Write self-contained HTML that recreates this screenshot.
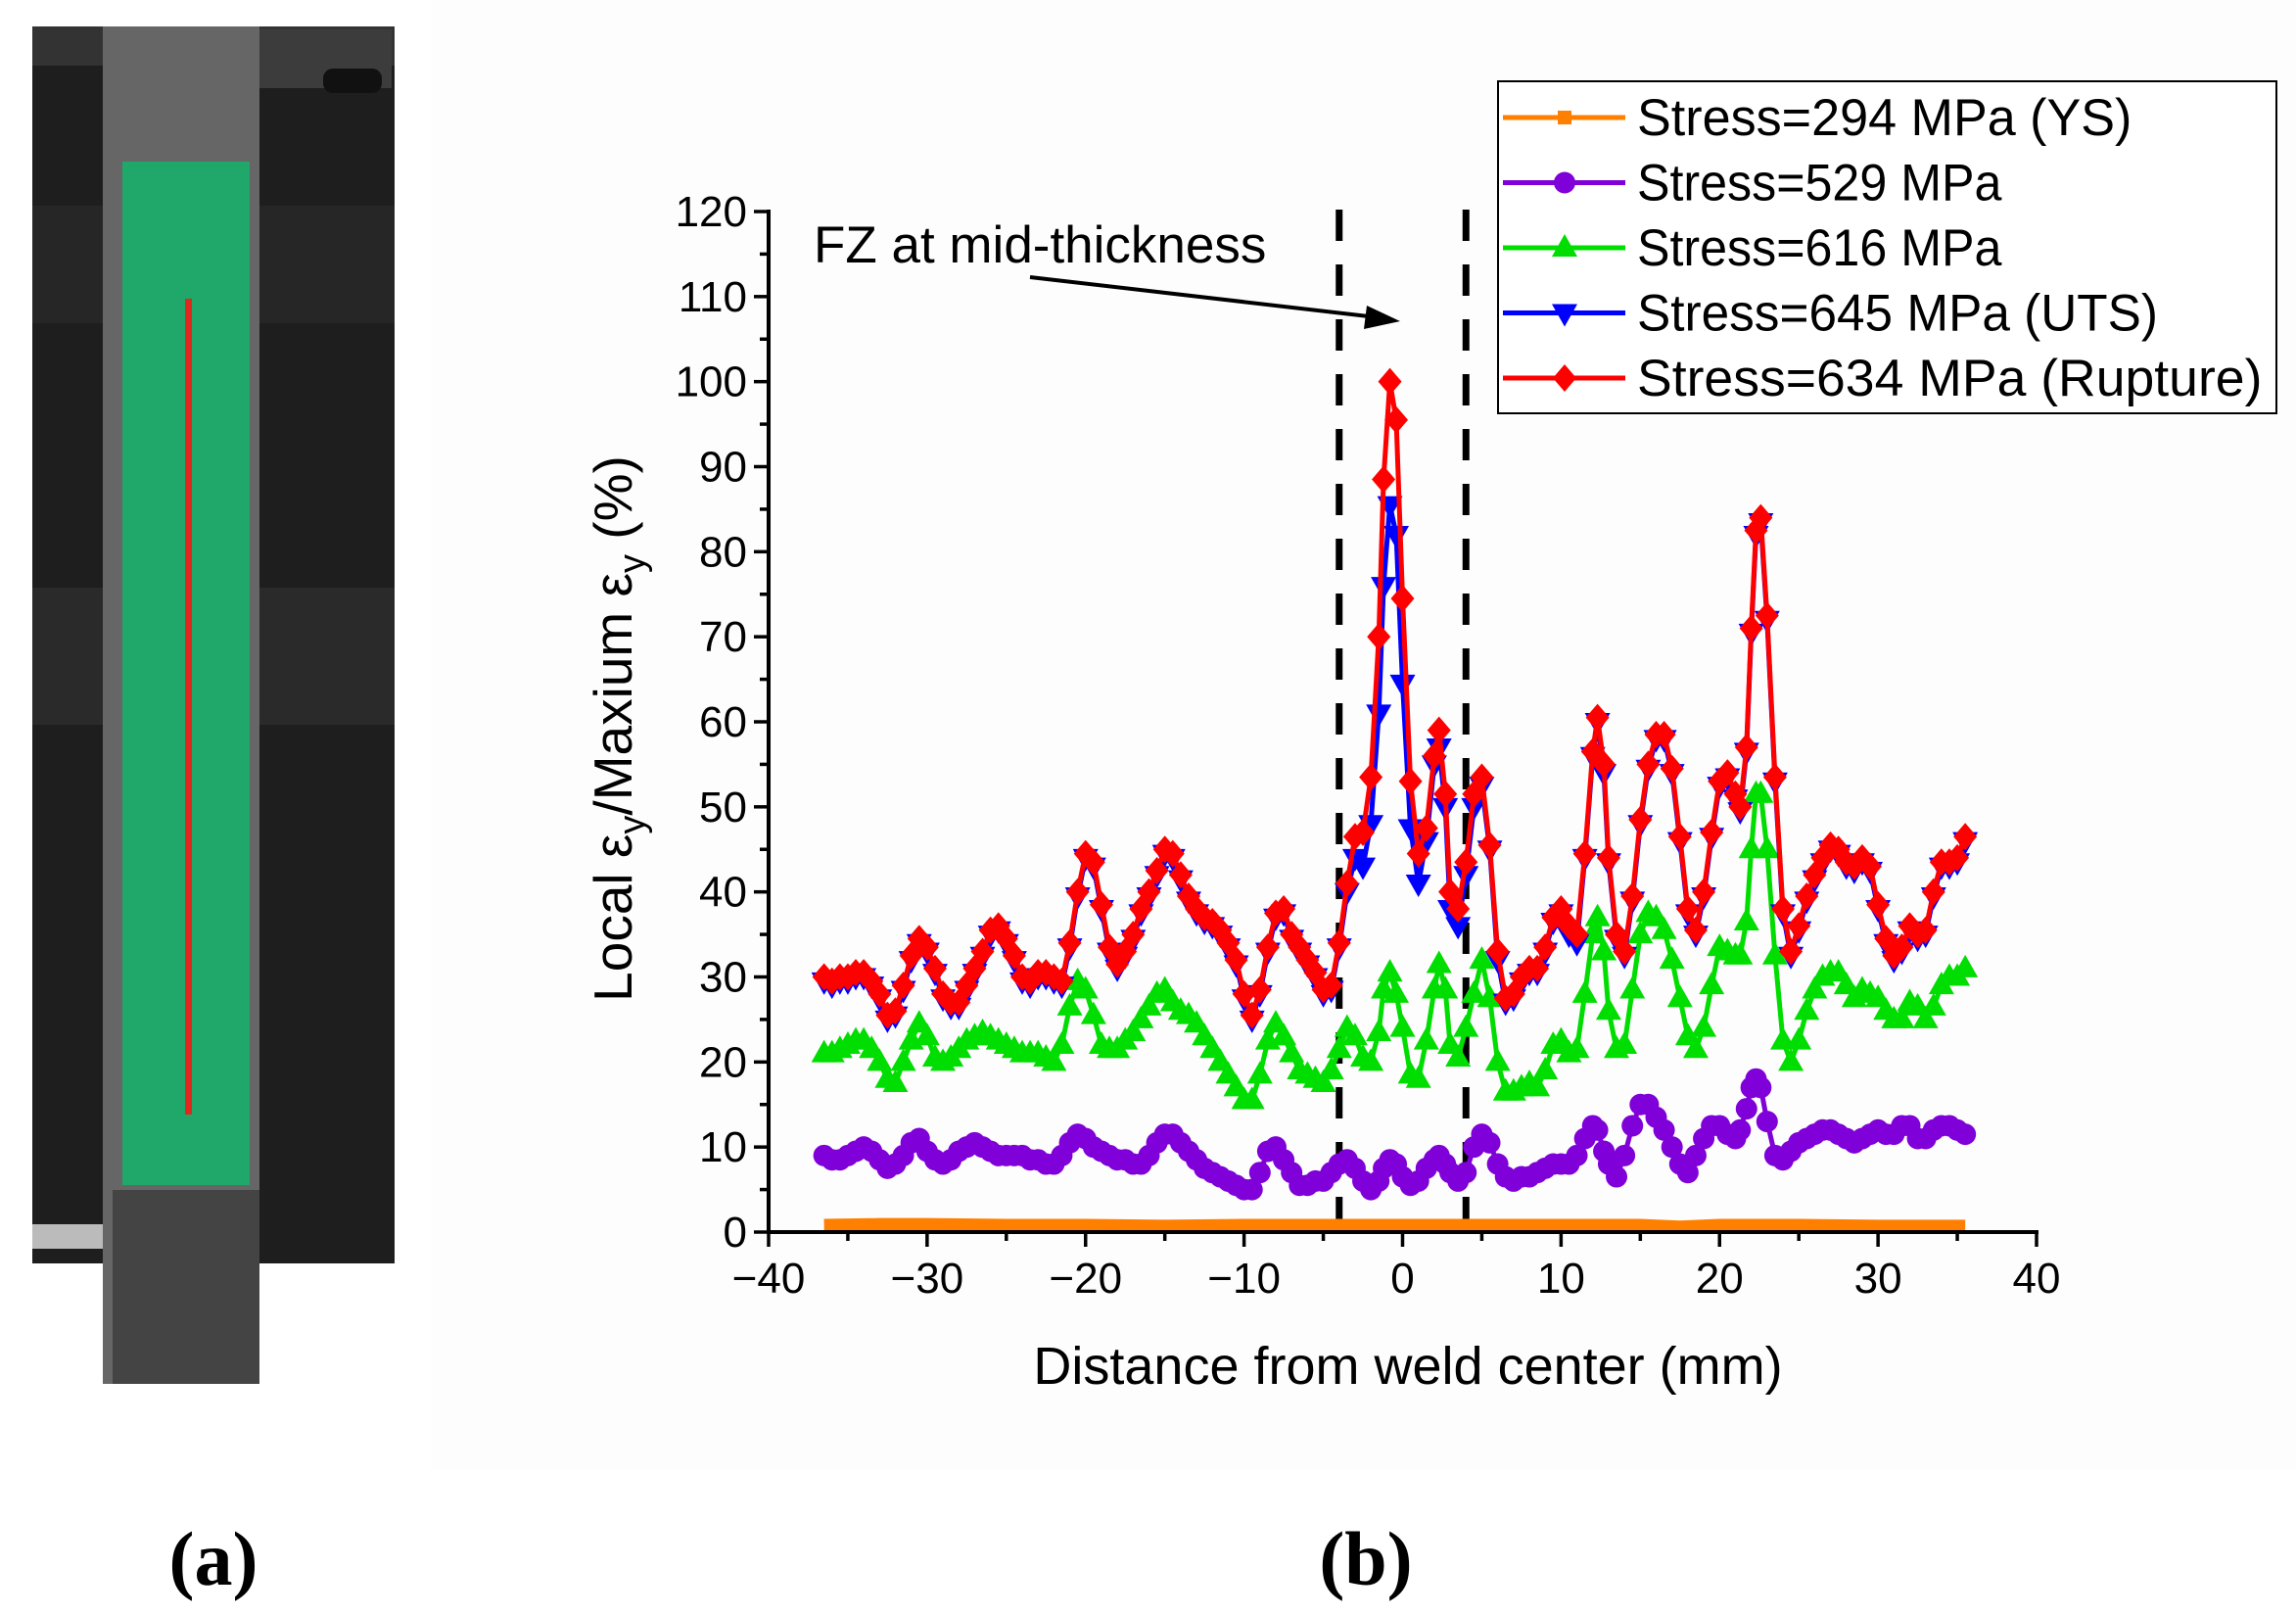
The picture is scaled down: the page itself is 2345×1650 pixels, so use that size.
<!DOCTYPE html>
<html><head><meta charset="utf-8"><style>
html,body{margin:0;padding:0;background:#fff;}
svg{display:block;font-family:"Liberation Sans",sans-serif;}
</style></head><body>
<svg id="fig" width="2345" height="1650" viewBox="0 0 2345 1650" xmlns="http://www.w3.org/2000/svg">
<rect x="0" y="0" width="2345" height="1650" fill="#fff"/>
<rect x="440" y="0" width="1905" height="1500" fill="#fdfdfd"/>
<!-- Photo (a) -->
<g>
  <rect x="33" y="27" width="370" height="1263" fill="#1e1e1e"/>
  <rect x="33" y="27" width="370" height="40" fill="#333"/>
  <rect x="33" y="210" width="370" height="120" fill="#262626"/>
  <rect x="240" y="30" width="160" height="60" fill="#3c3c3c"/>
  <rect x="330" y="70" width="60" height="25" rx="10" fill="#111"/>
  <rect x="33" y="600" width="370" height="140" fill="#2a2a2a"/>
  <rect x="33" y="1250" width="80" height="25" fill="#bbb"/>
  <rect x="33" y="1290" width="370" height="123" fill="#fff"/>
  <rect x="105" y="27" width="160" height="1386" fill="#666"/>
  <rect x="115" y="1215" width="150" height="198" fill="#444"/>
  <rect x="125" y="165" width="130" height="1045" fill="#1fa86a"/>
  <rect x="189" y="305" width="7" height="833" fill="#e0281c"/>
</g>
<text x="218" y="1618" font-family="Liberation Serif, serif" font-weight="bold" font-size="78" text-anchor="middle">(a)</text>
<text x="1395" y="1618" font-family="Liberation Serif, serif" font-weight="bold" font-size="78" text-anchor="middle">(b)</text>
<g id="chart"></g>
</svg>
<script>
const xs = [-36.5,-36,-35.5,-35,-34.5,-34,-33.5,-33,-32.5,-32,-31.5,-31,-30.5,-30,-29.5,-29,-28.5,-28,-27.5,-27,-26.5,-26,-25.5,-25,-24.5,-24,-23.5,-23,-22.5,-22,-21.5,-21,-20.5,-20,-19.5,-19,-18.5,-18,-17.5,-17,-16.5,-16,-15.5,-15,-14.5,-14,-13.5,-13,-12.5,-12,-11.5,-11,-10.5,-10,-9.5,-9,-8.5,-8,-7.5,-7,-6.5,-6,-5.5,-5,-4.5,-4,-3.5,-3,-2.5,-2,-1.5,
-1.2,-0.8,-0.4,0,0.5,1,1.5,2,2.3,2.7,
3,3.5,4,4.5,5,5.5,6,6.5,7,7.5,8,8.5,9,9.5,10,10.5,11,11.5,12,
12.3,12.7,
13,13.5,14,14.5,15,15.5,16,16.5,17,17.5,18,18.5,19,19.5,20,20.5,21,
21.3,21.7,22,22.3,22.6,
23,23.5,24,24.5,25,25.5,26,26.5,27,27.5,28,28.5,29,29.5,30,30.5,31,31.5,32,32.5,33,33.5,34,34.5,35,35.5];
const redVals = [30,29.5,30,30,30.5,30.5,29.5,28,25.5,26,29,32.5,34.5,33.5,31,28,27,27,29,31,33,35.5,36,34.5,32.5,30,29.5,30.5,30.5,30,29.5,34,40,44.5,43.5,38.5,33.5,31.5,33,35,38,40,42.5,45,44.5,42,39.5,38,37,36.5,35.5,34,32,28,25.5,28.5,33.5,37.5,38,35,33.5,32,30.5,28.5,29,34,41,46.5,47,53.5,70,
88.5,100,95.5,74.5,53,44.5,47.5,56,59,51.5,
40,38,43.5,51.5,53.5,45.5,33,27.5,28,30,31,31,33.5,37,38,36,35,44.5,56.5,
60.5,55,
44,35,33,39.5,48.5,55,58.5,58.5,54.5,46.5,38,35.5,40,47,53,54,51.5,
50,57,71,82.5,84,
72.5,53.5,38,33,36,39.5,42,44,45.5,45,43.5,43,44,43,38.5,34.5,32.5,33.5,36,35,35.5,40,43.5,43.5,44,46.5];
const blueVals = [29.5,29,29.5,29.5,30,30,29,27.5,25,25.5,28.5,32,34,33,30.5,27.5,26.5,26.5,28.5,30.5,32.5,35,35.5,34,32,29.5,29,30,30,29.5,29,33.5,39.5,44,43,38,33,31,32.5,34.5,37.5,39.5,42,44.5,44,41.5,39,37.5,36.5,36,35,33.5,31.5,27.5,25,28,33,37,37.5,34.5,33,31.5,30,28,28.5,33.5,40,44,43,48,61,
76,85.5,82,64.5,47.5,41,46,55,57,50,
38,36,42,50,52.5,45,32,27,27.5,29.5,30.5,30.5,33,36.5,37.5,35,34,44,56,
60,54,
43.5,34.5,32.5,39,48,54.5,58,58,54,46,37.5,35,39.5,46.5,52.5,53.5,51,
49.5,56.5,70.5,82,83.5,
72,53,37.5,32.5,35.5,39,41.5,43.5,45,44.5,43,42.5,43.5,42.5,38,34,32,33,35.5,34.5,35,39.5,43,43,43.5,46];
const greenVals = [21,21,21.5,22,22.5,22.5,21.5,20,18,17.5,20,22.5,24.5,23,20.5,20,20.5,21.5,22.5,23,23.5,23,22.5,22,21.5,21,21,21,20.5,20,22,26.5,29.5,28.5,25.5,22,21.5,21.5,22.5,23.5,25,26.5,28,28.5,27,26,25.5,24.5,23,21.5,20,18.5,17,15.5,15.5,18.5,22.5,24.5,23,21,19,18.5,18,17.5,19,21.5,24,23,20.5,20,23.5,
28.5,30.5,28,24,18.5,18,22.5,28.5,31.5,28.5,
22,20.5,24,28,32,27.5,20,16.5,16.5,17,17.5,17,19,22,22.5,21,21.5,28,35,
37,33,
26,21.5,22,28.5,35,37.5,37,35.5,32,27.5,23,21.5,24,29,33.5,33,32.5,
32.5,36.5,45,51.5,51.5,
45,32.5,22.5,20,22.5,26,28.5,30,30.5,30.5,29,27.5,28.5,28,27.5,26,25,25,27,26.5,25,26.5,29,30,30,31];
const purpleVals = [9,8.5,8.5,9,9.5,10,9.5,8.5,7.5,8,9,10.5,11,9.5,8.5,8,8.5,9.5,10,10.5,10,9.5,9,9,9,9,8.5,8.5,8,8,9,10.5,11.5,11,10,9.5,9,8.5,8.5,8,8,9,10.5,11.5,11.5,10.5,9.5,8.5,7.5,7,6.5,6,5.5,5,5,7,9.5,10,8.5,7,5.5,5.5,6,6,7,8,8.5,7.5,6,5,6,
7.5,8.5,8,6.5,5.5,6,7.5,8.5,9,8,
7,6,7,10,11.5,10.5,8,6.5,6,6.5,6.5,7,7.5,8,8,8,9,11,12.5,
12,9.5,
8,6.5,9,12.5,15,15,13.5,12,10,8,7,9,11,12.5,12.5,11.5,11,
12,14.5,17,18,17,
13,9,8.5,9.5,10.5,11,11.5,12,12,11.5,11,10.5,11,11.5,12,11.5,11.5,12.5,12.5,11,11,12,12.5,12.5,12,11.5];
const ysX = [-36.5,-33,-30,-25,-20,-15,-10,-5,0,5,10,15,17.5,20,25,30,35.5];
const ysVals = [0.8,0.9,0.9,0.8,0.8,0.7,0.8,0.8,0.8,0.8,0.8,0.8,0.6,0.8,0.8,0.7,0.7];
const xTicks = [-40,-30,-20,-10,0,10,20,30,40];
const xTickLabels = ["\u221240","\u221230","\u221220","\u221210","0","10","20","30","40"];
const yTicks = [0,10,20,30,40,50,60,70,80,90,100,110,120];
const fzBounds = [-4,4];
const legendLabels = ["Stress=294 MPa (YS)","Stress=529 MPa","Stress=616 MPa","Stress=645 MPa (UTS)","Stress=634 MPa (Rupture)"];

const NS="http://www.w3.org/2000/svg";
const g=document.getElementById('chart');
const X0=785,X1=2080,Y0=1258,Y1=216;
function sx(v){return X0+(v+40)/80*(X1-X0);}
function sy(v){return Y0-v/120*(Y0-Y1);}
function mk(tag,attrs,parent){const e=document.createElementNS(NS,tag);for(const k in attrs)e.setAttribute(k,attrs[k]);(parent||g).appendChild(e);return e;}

fzBounds.forEach(b=>{
  const l=mk('line',{x1:sx(b),x2:sx(b),y1:214,y2:Y0,stroke:'#000','stroke-width':7,'stroke-dasharray':'32,24'});
  
  
});

function marker(type,x,y,color,parent){
  let e;
  if(type==='square') e=mk('rect',{x:x-7,y:y-7,width:14,height:14,fill:color},parent);
  else if(type==='circle') e=mk('circle',{cx:x,cy:y,r:11,fill:color},parent);
  else if(type==='tri') e=mk('path',{d:`M${x} ${y-14}L${x+13} ${y+9}L${x-13} ${y+9}Z`,fill:color},parent);
  else if(type==='itri') e=mk('path',{d:`M${x} ${y+14}L${x+13} ${y-9}L${x-13} ${y-9}Z`,fill:color},parent);
  else e=mk('path',{d:`M${x} ${y-14}L${x+12} ${y}L${x} ${y+14}L${x-12} ${y}Z`,fill:color},parent);
  return e;
}
function series(name,xv,yv,color,type,width){
  const sg=mk('g',{});
  
  
  const pts=xv.map((x,i)=>sx(x)+','+sy(yv[i])).join(' ');
  mk('polyline',{points:pts,fill:'none',stroke:color,'stroke-width':width,'stroke-linejoin':'round'},sg);
  if(type!=='none') xv.forEach((x,i)=>marker(type,sx(x),sy(yv[i]),color,sg));
}
series('series-294mpa',ysX,ysVals,'#ff7f00','none',13);
series('series-529mpa',xs,purpleVals,'#7f00d8','circle',5);
series('series-616mpa',xs,greenVals,'#00dd00','tri',5);
series('series-645mpa',xs,blueVals,'#0000ff','itri',5);
series('series-634mpa',xs,redVals,'#ff0000','diamond',5);

const ax=mk('g',{});


mk('line',{x1:X0,x2:X0,y1:Y1-2,y2:Y0+2,stroke:'#000','stroke-width':4},ax);
mk('line',{x1:X0-2,x2:X1+2,y1:Y0,y2:Y0,stroke:'#000','stroke-width':4},ax);
yTicks.forEach((t,i)=>{
  mk('line',{x1:X0-15,x2:X0,y1:sy(t),y2:sy(t),stroke:'#000','stroke-width':3.5},ax);
  if(i<yTicks.length-1) mk('line',{x1:X0-9,x2:X0,y1:sy(t+5),y2:sy(t+5),stroke:'#000','stroke-width':3.5},ax);
  const tx=mk('text',{x:X0-22,y:sy(t)+15,'font-size':44,'text-anchor':'end'},ax);
  tx.textContent=t;
  
  
});
xTicks.forEach((t,i)=>{
  mk('line',{x1:sx(t),x2:sx(t),y1:Y0,y2:Y0+15,stroke:'#000','stroke-width':3.5},ax);
  if(i<xTicks.length-1) mk('line',{x1:sx(t+5),x2:sx(t+5),y1:Y0,y2:Y0+9,stroke:'#000','stroke-width':3.5},ax);
  const tx=mk('text',{x:sx(t),y:Y0+62,'font-size':44,'text-anchor':'middle'},ax);
  tx.textContent=xTickLabels[i];
  
  
});
const xt=mk('text',{x:1438,y:1413,'font-size':54,'text-anchor':'middle'});
xt.textContent='Distance from weld center (mm)';


const yt=mk('text',{x:0,y:0,'font-size':55,'text-anchor':'middle',transform:'translate(645,744) rotate(-90)'});


yt.innerHTML='Local ε<tspan font-size="38" dy="13">y</tspan><tspan dy="-13">/Maxium ε</tspan><tspan font-size="38" dy="13">y</tspan><tspan dy="-13"> (%)</tspan>';

const ann=mk('text',{x:831,y:268,'font-size':53});
ann.textContent='FZ at mid-thickness';


const arr=mk('line',{x1:1052,y1:283,x2:1398,y2:323,stroke:'#000','stroke-width':4});


mk('path',{d:'M1430 328 L1396 312 L1393 336 Z',fill:'#000'});

const lg=mk('g',{});


mk('rect',{x:1530,y:83,width:795,height:339,fill:'#fff',stroke:'#000','stroke-width':2},lg);
const lcol=['#ff7f00','#7f00d8','#00dd00','#0000ff','#ff0000'];
const ltype=['square','circle','tri','itri','diamond'];
legendLabels.forEach((lab,i)=>{
  const y=120+i*66.5;
  const eg=mk('g',{},lg);
  
  
  mk('line',{x1:1535,x2:1660,y1:y,y2:y,stroke:lcol[i],'stroke-width':5},eg);
  marker(ltype[i],1598,y,lcol[i],eg);
  const t=mk('text',{x:1672,y:y+18,'font-size':53,textLength:lab.length*26.6,lengthAdjust:'spacingAndGlyphs'},eg);
  t.textContent=lab;
});
</script>
</body></html>
